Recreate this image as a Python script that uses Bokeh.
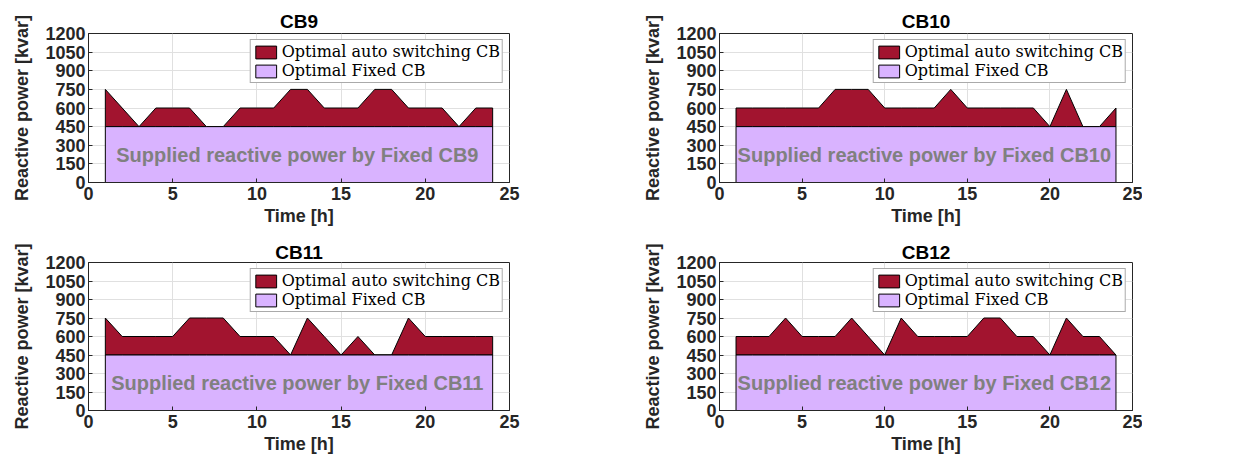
from bokeh.plotting import figure
from bokeh.layouts import gridplot
from bokeh.models import Label, Range1d, FixedTicker
from bokeh.embed import file_html
from bokeh.resources import INLINE

hours = list(range(1, 25))
fixed_cb = [450] * 24
cb9 = [750, 600, 450, 600, 600, 600, 450, 450, 600, 600, 600, 750,
       750, 600, 600, 600, 750, 750, 600, 600, 600, 450, 600, 600]
cb10 = [600, 600, 600, 600, 600, 600, 750, 750, 750, 600, 600, 600,
        600, 750, 600, 600, 600, 600, 600, 450, 750, 450, 450, 600]
cb11 = [750, 600, 600, 600, 600, 750, 750, 750, 600, 600, 600, 450,
        750, 600, 450, 600, 450, 450, 750, 600, 600, 600, 600, 600]
cb12 = [600, 600, 600, 750, 600, 600, 600, 750, 600, 450, 750, 600,
        600, 600, 600, 750, 750, 600, 600, 450, 750, 600, 600, 450]
titles = ["CB9", "CB10", "CB11", "CB12"]
series = [cb9, cb10, cb11, cb12]
x_ticks = [0, 5, 10, 15, 20, 25]
y_ticks = [0, 150, 300, 450, 600, 750, 900, 1050, 1200]

RED = "#A2142F"
PURPLE = "#D9B3FF"
DARK = "#262626"


def make(title, vals, left_panel, top_panel):
    fw = 421 if left_panel else 413
    p = figure(output_backend="svg", toolbar_location=None,
               frame_width=fw, frame_height=149 if top_panel else 148,
               x_range=Range1d(0, 25), y_range=Range1d(0, 1200),
               min_border_left=88, min_border_right=122 if left_panel else 10,
               min_border_top=33 if top_panel else 30,
               min_border_bottom=50 if top_panel else 50,
               title=title)
    p.title.align = "center"
    p.title.text_font = "Liberation Sans"
    p.title.text_font_size = "19px"
    p.title.text_font_style = "bold"
    p.title.text_color = "black"
    p.title.standoff = 4 if top_panel else 0
    p.title.offset = 0

    # stacked areas
    xs_fixed = [hours[0]] + hours + [hours[-1]]
    ys_fixed = [0] + fixed_cb + [0]
    xs_auto = hours + hours[::-1]
    ys_auto = vals + fixed_cb[::-1]
    p.patch(xs_auto, ys_auto, fill_color=RED, line_color="black", line_width=1,
            legend_label="Optimal auto switching CB")
    p.patch(xs_fixed, ys_fixed, fill_color=PURPLE, line_color="black", line_width=1,
            legend_label="Optimal Fixed CB")

    lab = Label(x=12.4, y=225, text="Supplied reactive power by Fixed " + title,
                text_align="center", text_baseline="middle",
                text_font="Liberation Sans", text_font_style="bold",
                text_font_size="20px", text_color="#808080")
    p.add_layout(lab)

    p.xaxis.ticker = FixedTicker(ticks=x_ticks)
    p.yaxis.ticker = FixedTicker(ticks=y_ticks)
    for ax in (p.xaxis, p.yaxis):
        ax.major_tick_in = 4
        ax.major_tick_out = 0
        ax.minor_tick_in = 0
        ax.minor_tick_out = 0
        ax.axis_line_color = DARK
        ax.major_tick_line_color = DARK
        ax.major_label_text_font = "Liberation Sans"
        ax.major_label_text_font_style = "bold"
        ax.major_label_text_font_size = "18px"
        ax.major_label_text_color = DARK
        ax.axis_label_text_font = "Liberation Sans"
        ax.axis_label_text_font_style = "bold"
        ax.axis_label_text_font_size = "18px"
        ax.axis_label_text_color = DARK
    p.xaxis.axis_label = "Time [h]"
    p.yaxis.axis_label = "Reactive power [kvar]"
    p.xaxis.major_label_standoff = 4
    p.yaxis.major_label_standoff = 3
    p.xaxis.axis_label_standoff = 3
    p.yaxis.axis_label_standoff = 10

    p.xgrid.ticker = FixedTicker(ticks=x_ticks)
    p.ygrid.ticker = FixedTicker(ticks=y_ticks)
    p.grid.grid_line_color = "#E0E0E0"
    p.outline_line_color = DARK
    p.outline_line_alpha = 1

    lg = p.legend[0]
    lg.location = "top_right"
    lg.margin = 6
    lg.padding = 2
    lg.spacing = 0
    lg.label_text_font = "DejaVu Serif"
    lg.label_text_font_size = "16px"
    lg.label_standoff = 3
    lg.label_height = 16
    lg.glyph_width = 26
    lg.glyph_height = 16
    lg.border_line_color = "#555555"
    lg.background_fill_alpha = 1
    lg.label_text_color = "black"
    return p


figs = [make(titles[i], series[i], i % 2 == 0, i < 2) for i in range(4)]
grid = gridplot([[figs[0], figs[1]], [figs[2], figs[3]]], toolbar_location=None)

open("out.html", "w").write(file_html(grid, INLINE))
